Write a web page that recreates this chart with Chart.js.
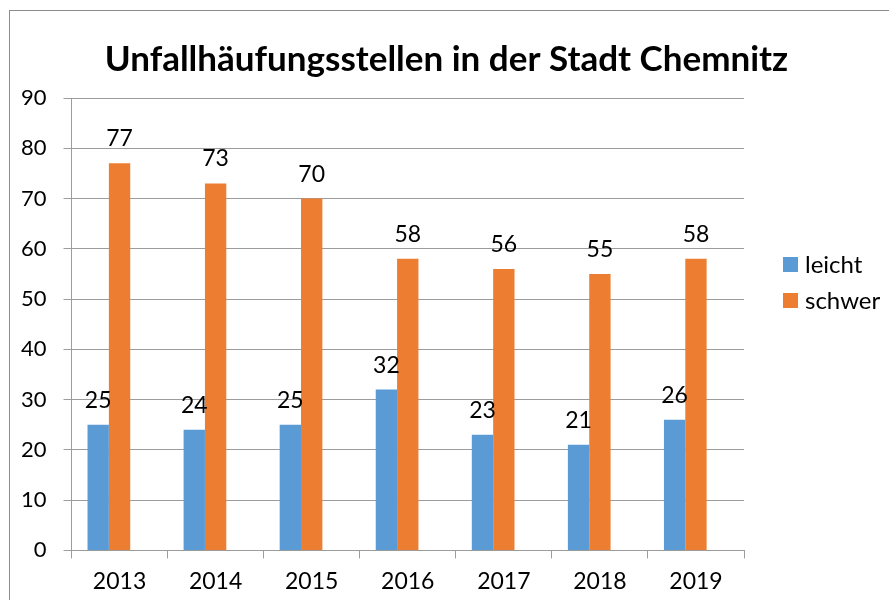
<!DOCTYPE html>
<html>
<head>
<meta charset="utf-8">
<script src="https://cdn.jsdelivr.net/npm/chart.js@4/dist/chart.umd.min.js"></script>
<style>
  html, body { margin: 0; padding: 0; background: #fff; overflow: hidden; }
  #frame { position: absolute; left: 9px; top: 10px; width: 920px; height: 640px; border: 1px solid #8c8c8c; }
  #c { position: absolute; left: 0; top: 0; }
</style>
</head>
<body>
<div id="frame"></div>
<canvas id="c" width="889" height="612"></canvas>
<script>
const titleText = 'Unfallhäufungsstellen in der Stadt Chemnitz';
const years = ['2013', '2014', '2015', '2016', '2017', '2018', '2019'];
const leicht = [25, 24, 25, 32, 23, 21, 26];
const schwer = [77, 73, 70, 58, 56, 55, 58];
const leer = [null, null, null, null, null, null, null];
const yTicks = [0, 10, 20, 30, 40, 50, 60, 70, 80, 90];

const FONT = 'Lato, "Open Sans", sans-serif';
const GRID = '#9c9c9c';

const valueLabels = {
  id: 'valueLabels',
  afterDatasetsDraw(chart) {
    const ctx = chart.ctx;
    ctx.save();
    ctx.font = '23px ' + FONT;
    ctx.fillStyle = '#000';
    ctx.textAlign = 'center';
    ctx.textBaseline = 'alphabetic';
    chart.data.datasets.forEach((ds, di) => {
      if (!ds.showValues) return;
      const meta = chart.getDatasetMeta(di);
      meta.data.forEach((bar, i) => {
        const v = ds.data[i];
        if (v == null) return;
        ctx.fillText(String(v), bar.x, bar.y - 17);
      });
    });
    ctx.restore();
  }
};

const sideLegend = {
  id: 'sideLegend',
  afterDraw(chart) {
    const ctx = chart.ctx;
    const a = chart.chartArea;
    ctx.save();
    ctx.font = '24px ' + FONT;
    ctx.textBaseline = 'alphabetic';
    ctx.textAlign = 'left';
    let y = a.top + 159;
    chart.data.datasets.forEach(ds => {
      if (!ds.inLegend) return;
      ctx.fillStyle = ds.backgroundColor;
      ctx.fillRect(a.right + 39, y, 15, 15);
      ctx.fillStyle = '#000';
      ctx.fillText(ds.label, a.right + 61, y + 16);
      y += 36;
    });
    ctx.restore();
  }
};

new Chart(document.getElementById('c'), {
  type: 'bar',
  data: {
    labels: years,
    datasets: [
      { label: 'leicht', data: leicht, backgroundColor: '#5B9BD5', showValues: true, inLegend: true },
      { label: 'schwer', data: schwer, backgroundColor: '#ED7D31', showValues: true, inLegend: true },
      { label: '', data: leer, backgroundColor: 'rgba(0,0,0,0)', showValues: false, inLegend: false }
    ]
  },
  options: {
    responsive: false,
    animation: false,
    devicePixelRatio: 1,
    datasets: { bar: { categoryPercentage: 3 / 4.5, barPercentage: 1 } },
    layout: { padding: { left: 4, right: 0, top: 0, bottom: 8 } },
    plugins: {
      legend: { display: false },
      tooltip: { enabled: false },
      title: {
        display: true,
        text: titleText,
        color: '#000',
        font: { family: FONT, size: 35, weight: 'bold' },
        padding: { top: 39, bottom: 17 }
      }
    },
    scales: {
      x: {
        grid: { drawOnChartArea: false, drawTicks: true, tickLength: 8, color: GRID },
        border: { color: GRID },
        ticks: { color: '#000', font: { family: FONT, size: 23 }, padding: 9 }
      },
      y: {
        min: 0,
        max: 90,
        afterBuildTicks(scale) { scale.ticks = yTicks.map(v => ({ value: v })); },
        grid: { color: GRID, tickLength: 8, drawTicks: true },
        border: { color: GRID },
        ticks: { color: '#000', font: { family: FONT, size: 22 }, padding: 17 }
      },
      side: {
        position: 'right',
        display: true,
        grid: { display: false },
        border: { display: false },
        ticks: { display: false },
        afterFit(scale) { scale.width = 145; }
      }
    }
  },
  plugins: [valueLabels, sideLegend]
});
</script>
</body>
</html>
